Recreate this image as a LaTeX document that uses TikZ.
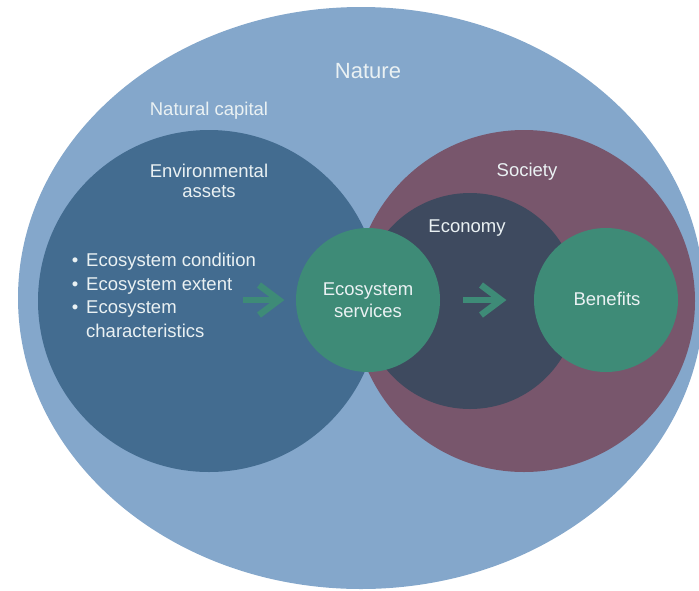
\documentclass[tikz,border=0pt]{standalone}
\usepackage{fontspec}
\setmainfont{Liberation Sans}
\usetikzlibrary{shapes.geometric}
\definecolor{naturecol}{HTML}{84A7CB}
\definecolor{envcol}{HTML}{436C90}
\definecolor{societycol}{HTML}{78566C}
\definecolor{economycol}{HTML}{3E4A5F}
\definecolor{greencol}{HTML}{3E8B77}
\definecolor{txtcol}{HTML}{EAF1F3}
\tikzset{
  blob/.style={circle, inner sep=0pt, draw=none},
  lbl/.style={text=txtcol, font=\fontsize{18.5}{20}\selectfont, anchor=base, inner sep=0pt},
  flow/.style={draw=greencol, line width=6.5pt, line cap=butt, line join=miter},
}
\begin{document}
\begin{tikzpicture}[x=1pt,y=-1pt]
\useasboundingbox (0,0) rectangle (699,590);
% shapes
\node[ellipse, fill=naturecol, inner sep=0pt, minimum width=686pt, minimum height=582pt] (nature) at (361,298) {};
\node[blob, fill=envcol, minimum size=342pt] (env) at (209,301) {};
\node[blob, fill=societycol, minimum size=342pt] (society) at (524,301) {};
\node[blob, fill=economycol, minimum size=216pt] (economy) at (470,301) {};
\node[blob, fill=greencol, minimum size=144pt] (services) at (368,300) {};
\node[blob, fill=greencol, minimum size=144pt] (benefits) at (606,300) {};
% arrows
\coordinate (a1s) at (243,300);
\coordinate (a1e) at (279,300);
\coordinate (a2s) at (463,300);
\coordinate (a2e) at (501,300);
\draw[flow] (a1s) -- (a1e);
\draw[flow] (a1e) ++(-20,-15) -- (a1e) -- ++(-20,15);
\draw[flow] (a2s) -- (a2e);
\draw[flow] (a2e) ++(-20,-15) -- (a2e) -- ++(-20,15);
% labels
\node[lbl, font=\fontsize{22}{24}\selectfont] (tnature) at (368,78) {Nature};
\node[lbl] (tcapital) at (209,115) {Natural capital};
\node[lbl] (tenv1) at (209,177) {Environmental};
\node[lbl] (tenv2) at (209,197) {assets};
\node[lbl] (tsociety) at (527,176) {Society};
\node[lbl] (teconomy) at (467,232) {Economy};
\node[lbl] (tserv1) at (368,295) {Ecosystem};
\node[lbl] (tserv2) at (368,317) {services};
\node[lbl] (tbenefits) at (607,305) {Benefits};
\node[lbl, anchor=base west] (b1) at (86,266) {Ecosystem condition};
\node[lbl, anchor=base west] (b2) at (86,290) {Ecosystem extent};
\node[lbl, anchor=base west] (b3) at (86,313) {Ecosystem};
\node[lbl, anchor=base west] (b4) at (86,337) {characteristics};
\node[lbl, anchor=base] (d1) at (75,266) {\textbullet};
\node[lbl, anchor=base] (d2) at (75,290) {\textbullet};
\node[lbl, anchor=base] (d3) at (75,313) {\textbullet};
\end{tikzpicture}
\end{document}
